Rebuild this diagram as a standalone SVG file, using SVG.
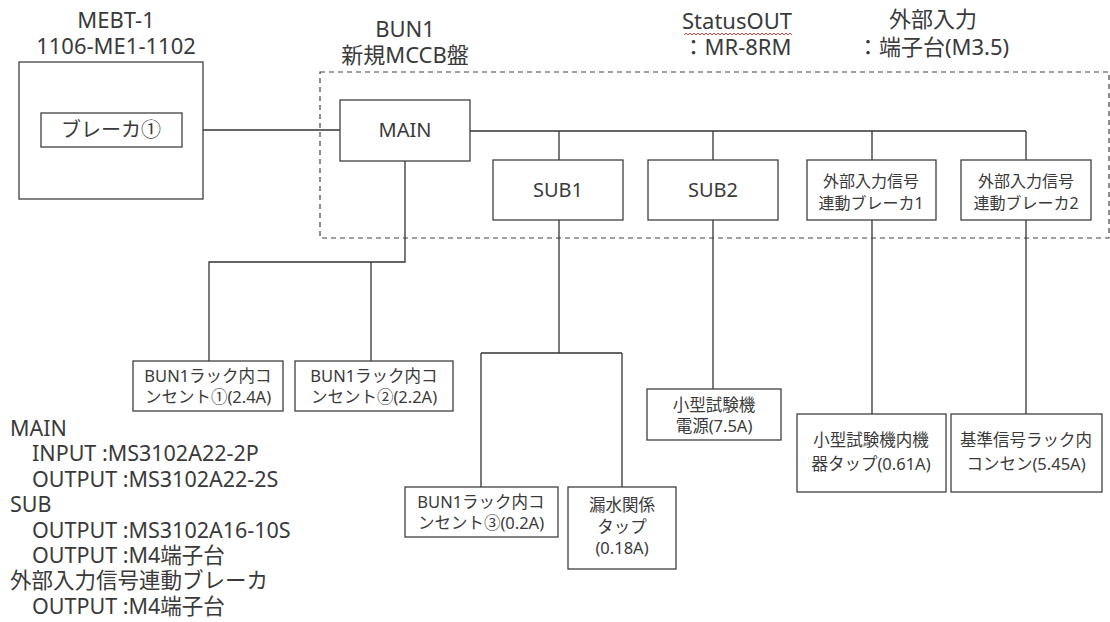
<svg xmlns="http://www.w3.org/2000/svg" width="1110" height="622" viewBox="0 0 1110 622">
<style>
text{font-family:"Noto Sans","Noto Sans CJK JP",sans-serif;fill:#3a3a3a;}
.t{font-size:22px;text-anchor:middle;}
.n{font-size:20px;text-anchor:middle;}
.s{font-size:16px;text-anchor:middle;}
.m{font-size:16.5px;text-anchor:middle;}
.l{font-size:21.5px;}
.box{fill:#fff;stroke:#404040;stroke-width:1.3;}
.c{fill:none;stroke:#333;stroke-width:1.3;}
</style>
<rect width="1110" height="622" fill="#fff"/>
<g id="titles">
<text class="t" x="116" y="28">MEBT-1</text>
<text class="t" x="116" y="54">1106-ME1-1102</text>
<text class="t" x="405" y="37">BUN1</text>
<text class="t" x="405" y="63">新規MCCB盤</text>
<text class="t" x="737" y="29">StatusOUT</text>
<path d="M684,35 l2,-2 l2,2 l2,-2 l2,2 l2,-2 l2,2 l2,-2 l2,2 l2,-2 l2,2 l2,-2 l2,2 l2,-2 l2,2 l2,-2 l2,2 l2,-2 l2,2 l2,-2 l2,2 l2,-2 l2,2 l2,-2 l2,2 l2,-2 l2,2 l2,-2 l2,2 l2,-2 l2,2 l2,-2 l2,2 l2,-2 l2,2 l2,-2 l2,2 l2,-2 l2,2 l2,-2 l2,2 l2,-2 l2,2 l2,-2 l2,2 l2,-2 l2,2 l2,-2 l2,2 l2,-2 l2,2 l2,-2 l2,2 l2,-2 l2,2" fill="none" stroke="#e03030" stroke-width="0.9"/>
<text class="t" x="737" y="55">：MR-8RM</text>
<text class="t" x="933" y="27">外部入力</text>
<text class="t" x="933" y="55">：端子台(M3.5)</text>
</g>
<rect id="bun1-panel" x="320" y="72" width="789" height="166" fill="none" stroke="#444" stroke-width="1.2" stroke-dasharray="5,4"/>
<g id="connectors">
<path class="c" d="M182,130H340"/>
<path class="c" d="M470,131H1026M559,131V160M713,131V160M872,131V160M1026,131V160"/>
<path class="c" d="M405,161V262H209V361M371,262V361" stroke-width="1.8"/>
<path class="c" d="M559,220V353M481,353H622M481,353V487M622,353V487"/>
<path class="c" d="M713,220V389"/>
<path class="c" d="M872,220V414"/>
<path class="c" d="M1026,220V414"/>
</g>
<g id="mebt1">
<rect class="box" x="19" y="62" width="184" height="137" fill="none"/>
</g>
<g id="breaker1">
<rect class="box" x="41" y="113" width="141" height="34"/>
<text class="n" x="111" y="137">ブレーカ①</text>
</g>
<g id="main">
<rect class="box" x="340" y="100" width="130" height="61"/>
<text class="n" x="405" y="137">MAIN</text>
</g>
<g id="sub1">
<rect class="box" x="493" y="160" width="130" height="60"/>
<text class="n" x="558" y="197">SUB1</text>
</g>
<g id="sub2">
<rect class="box" x="648" y="160" width="130" height="60"/>
<text class="n" x="713" y="197">SUB2</text>
</g>
<g id="ext1">
<rect class="box" x="807" y="160" width="129" height="60"/>
<text class="s" x="871" y="187">外部入力信号</text>
<text class="s" x="871" y="209">連動ブレーカ1</text>
</g>
<g id="ext2">
<rect class="box" x="961" y="160" width="130" height="60"/>
<text class="s" x="1026" y="187">外部入力信号</text>
<text class="s" x="1026" y="209">連動ブレーカ2</text>
</g>
<g id="outlet1">
<rect class="box" x="133" y="361" width="150" height="50"/>
<text class="m" x="208" y="382">BUN1ラック内コ</text>
<text class="m" x="208" y="403">ンセント①(2.4A)</text>
</g>
<g id="outlet2">
<rect class="box" x="295" y="361" width="158" height="50"/>
<text class="m" x="374" y="382">BUN1ラック内コ</text>
<text class="m" x="374" y="403">ンセント②(2.2A)</text>
</g>
<g id="outlet3">
<rect class="box" x="405" y="487" width="153" height="50"/>
<text class="m" x="481" y="508">BUN1ラック内コ</text>
<text class="m" x="481" y="529">ンセント③(0.2A)</text>
</g>
<g id="leak-tap">
<rect class="box" x="568" y="487" width="108" height="82"/>
<text class="m" x="622" y="511">漏水関係</text>
<text class="m" x="622" y="533">タップ</text>
<text class="m" x="622" y="554">(0.18A)</text>
</g>
<g id="tester-power">
<rect class="box" x="647" y="389" width="134" height="51"/>
<text class="m" x="714" y="411">小型試験機</text>
<text class="m" x="714" y="432">電源(7.5A)</text>
</g>
<g id="tester-tap">
<rect class="box" x="797" y="414" width="149" height="78"/>
<text class="m" x="871" y="446">小型試験機内機</text>
<text class="m" x="871" y="470">器タップ(0.61A)</text>
</g>
<g id="ref-outlet">
<rect class="box" x="951" y="414" width="151" height="78"/>
<text class="m" x="1026" y="446">基準信号ラック内</text>
<text class="m" x="1026" y="470">コンセン(5.45A)</text>
</g>
<g id="legend">
<text class="l" x="10" y="436">MAIN</text>
<text class="l" x="32" y="461">INPUT :MS3102A22-2P</text>
<text class="l" x="32" y="487">OUTPUT :MS3102A22-2S</text>
<text class="l" x="10" y="512">SUB</text>
<text class="l" x="32" y="538">OUTPUT :MS3102A16-10S</text>
<text class="l" x="32" y="563">OUTPUT :M4端子台</text>
<text class="l" x="10" y="588">外部入力信号連動ブレーカ</text>
<text class="l" x="32" y="614">OUTPUT :M4端子台</text>
</g>
</svg>
